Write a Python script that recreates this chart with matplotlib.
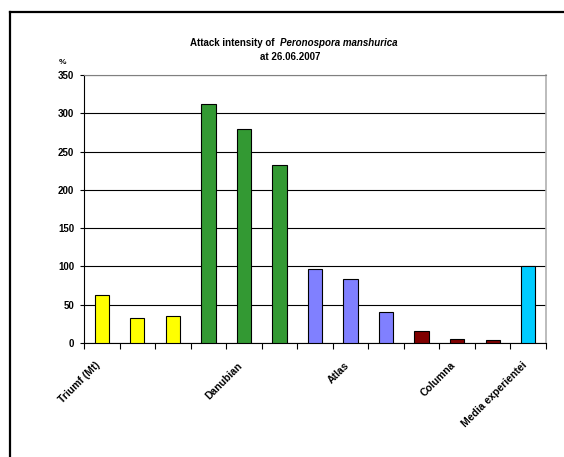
import matplotlib.pyplot as plt
from matplotlib.lines import Line2D
from matplotlib.transforms import ScaledTranslation
import numpy as np

plt.rcParams['font.family'] = ['Liberation Sans', 'DejaVu Sans']

# data
values = [63, 32, 35, 312, 280, 232, 97, 84, 41, 15, 5, 4, 100]
colors = ['#FFFF00'] * 3 + ['#339933'] * 3 + ['#8080FF'] * 3 + ['#800000'] * 3 + ['#00CCFF']
tick_labels = ['Triumf (Mt)', '', '', '', 'Danubian', '', '', 'Atlas', '', '',
               'Columna', '', 'Media experientei']
yticks = [0, 50, 100, 150, 200, 250, 300, 350]

fig = plt.figure(figsize=(5.64, 4.57), dpi=100)
ax = fig.add_axes([0.149, 0.2495, 0.819, 0.5865])

x = np.arange(len(values))
ax.bar(x, values, width=0.4, color=colors, edgecolor='black', linewidth=0.8, zorder=3)

ax.set_xlim(-0.5, len(values) - 0.5)
ax.set_ylim(0, 350)
ax.set_yticks(yticks)
ax.set_yticklabels([str(v) for v in yticks], fontsize=7, fontweight='bold')
ax.yaxis.grid(True, color='black', linewidth=0.8, zorder=0)
ax.tick_params(axis='y', direction='out', length=3, width=0.8, pad=4)

# category boundaries as ticks, names at the centres
ax.set_xticks(np.arange(-0.5, len(values), 1.0))
ax.set_xticklabels([])
ax.tick_params(axis='x', which='major', direction='out', length=4, width=0.8)
ax.set_xticks(x, minor=True)
ax.set_xticklabels(tick_labels, minor=True, rotation=45, ha='right', va='center',
                   rotation_mode='anchor', fontsize=7.5, fontweight='bold')
ax.tick_params(axis='x', which='minor', length=0, pad=15)
shift = ScaledTranslation(-3 / 100, 0, fig.dpi_scale_trans)
for lbl in ax.get_xticklabels(minor=True):
    lbl.set_transform(lbl.get_transform() + shift)

ax.spines['left'].set_color('black')
ax.spines['bottom'].set_color('black')
ax.spines['top'].set_color('#808080')
ax.spines['right'].set_color('#b0b0b0')
ax.spines['right'].set_linewidth(1.2)

fig.text(59 / 564, 1 - 63 / 457, '%', fontsize=6, fontweight='bold', ha='left', va='center')

fig.text(277 / 564, 1 - 43 / 457, 'Attack intensity of ', fontsize=7, fontweight='bold',
         ha='right', va='center')
fig.text(280 / 564, 1 - 43 / 457, 'Peronospora manshurica', fontsize=7, fontweight='bold',
         fontstyle='italic', ha='left', va='center')
fig.text(290 / 564, 1 - 57 / 457, 'at 26.06.2007', fontsize=7, fontweight='bold',
         ha='center', va='center')

# outer chart frame (only left and top edges show)
fig.add_artist(Line2D([10 / 564, 10 / 564], [0, 1 - 12 / 457], color='black', linewidth=1.6,
                      transform=fig.transFigure))
fig.add_artist(Line2D([10 / 564, 1], [1 - 12 / 457, 1 - 12 / 457], color='black', linewidth=1.6,
                      transform=fig.transFigure))

fig.savefig('out.png', dpi=100)
